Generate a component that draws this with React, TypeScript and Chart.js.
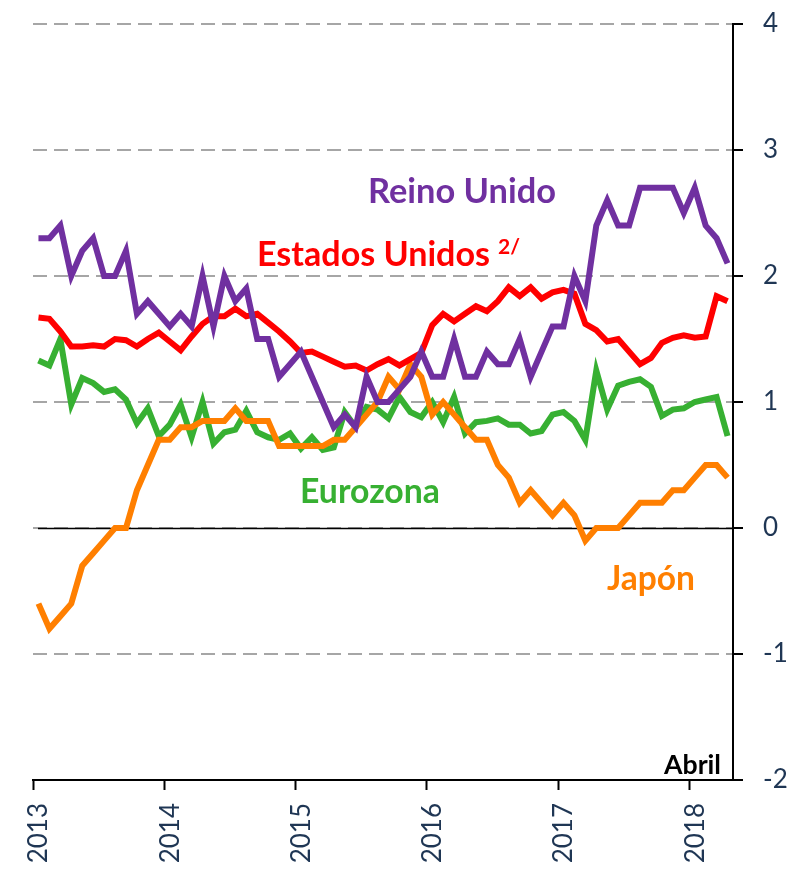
import React, { useEffect, useRef } from 'react';
import { Chart, registerables } from 'chart.js';

Chart.register(...registerables);

// Tick labels (one per January)
const years = ['2013', '2014', '2015', '2016', '2017', '2018'];

// Monthly series, Jan 2013 – Apr 2018 (annual % change)
const ukValues = [
  2.3, 2.3, 2.4, 2.0, 2.2, 2.3, 2.0, 2.0, 2.2, 1.7, 1.8, 1.7,
  1.6, 1.7, 1.6, 2.0, 1.6, 2.0, 1.8, 1.9, 1.5, 1.5, 1.2, 1.3,
  1.4, 1.2, 1.0, 0.8, 0.9, 0.8, 1.2, 1.0, 1.0, 1.1, 1.2, 1.4,
  1.2, 1.2, 1.5, 1.2, 1.2, 1.4, 1.3, 1.3, 1.5, 1.2, 1.4, 1.6,
  1.6, 2.0, 1.8, 2.4, 2.6, 2.4, 2.4, 2.7, 2.7, 2.7, 2.7, 2.5,
  2.7, 2.4, 2.3, 2.1,
];

const usValues = [
  1.67, 1.66, 1.56, 1.44, 1.44, 1.45, 1.44, 1.50, 1.49, 1.44, 1.50, 1.55,
  1.48, 1.41, 1.52, 1.62, 1.68, 1.68, 1.74, 1.68, 1.70, 1.63, 1.56, 1.48,
  1.39, 1.40, 1.36, 1.32, 1.28, 1.29, 1.25, 1.30, 1.34, 1.29, 1.34, 1.39,
  1.61, 1.70, 1.64, 1.70, 1.76, 1.72, 1.80, 1.91, 1.84, 1.91, 1.82, 1.87,
  1.89, 1.86, 1.62, 1.57, 1.48, 1.50, 1.40, 1.30, 1.35, 1.47, 1.51, 1.53,
  1.51, 1.52, 1.84, 1.80,
];

const euroValues = [
  1.33, 1.29, 1.50, 0.98, 1.19, 1.15, 1.08, 1.10, 1.02, 0.83, 0.95, 0.73,
  0.82, 0.98, 0.72, 1.00, 0.67, 0.76, 0.78, 0.93, 0.76, 0.72, 0.70, 0.75,
  0.63, 0.72, 0.62, 0.64, 0.92, 0.80, 0.96, 0.94, 0.87, 1.04, 0.92, 0.88,
  1.00, 0.84, 1.04, 0.75, 0.84, 0.85, 0.87, 0.82, 0.82, 0.75, 0.77, 0.90,
  0.92, 0.85, 0.70, 1.25, 0.94, 1.13, 1.16, 1.18, 1.12, 0.89, 0.94, 0.95,
  1.00, 1.02, 1.04, 0.73,
];

const japanValues = [
  -0.6, -0.8, -0.7, -0.6, -0.3, -0.2, -0.1, 0.0, 0.0, 0.3, 0.5, 0.7,
  0.7, 0.8, 0.8, 0.85, 0.85, 0.85, 0.95, 0.85, 0.85, 0.85, 0.65, 0.65,
  0.65, 0.65, 0.65, 0.7, 0.7, 0.8, 0.9, 1.0, 1.2, 1.1, 1.3, 1.2,
  0.9, 1.0, 0.9, 0.8, 0.7, 0.7, 0.5, 0.4, 0.2, 0.3, 0.2, 0.1,
  0.2, 0.1, -0.1, 0.0, 0.0, 0.0, 0.1, 0.2, 0.2, 0.2, 0.3, 0.3,
  0.4, 0.5, 0.5, 0.4,
];

const seriesNames = ['Reino Unido', 'Estados Unidos', 'Eurozona', 'Japón'];
const footnoteMark = '2/';
const periodNote = 'Abril';

const FONT = 'Lato, "Open Sans", "DejaVu Sans", sans-serif';
const NAVY = '#1F3654';
const PURPLE = '#7030A0';
const RED = '#FF0000';
const GREEN = '#37B032';
const ORANGE = '#FF7F00';

export default function App() {
  const ref = useRef<HTMLCanvasElement | null>(null);

  useEffect(() => {
    document.body.style.margin = '0';
    const canvas = ref.current;
    if (!canvas) return;

    const toPoints = (arr: number[]) => arr.map((v, i) => ({ x: i + 0.5, y: v }));

    const textItems = [
      { text: seriesNames[0], color: PURPLE, x: 368, y: 203, w: 188 },
      { text: seriesNames[1], color: RED, x: 257, y: 266, w: 233 },
      { text: footnoteMark, color: RED, x: 498, y: 254, w: 22 },
      { text: seriesNames[2], color: GREEN, x: 300, y: 503, w: 140 },
      { text: seriesNames[3], color: ORANGE, x: 607, y: 590, w: 88 },
      { text: periodNote, color: '#000000', x: 664, y: 774, w: 57 },
    ];

    const annotate = {
      id: 'annotate',
      beforeDatasetsDraw(chart: any) {
        const { ctx, chartArea, scales } = chart;
        const y0 = Math.round(scales.y.getPixelForValue(0)) + 0.5;
        ctx.save();
        ctx.strokeStyle = '#000000';
        ctx.lineWidth = 1.5;
        ctx.beginPath();
        ctx.moveTo(chartArea.left + 5, y0);
        ctx.lineTo(chartArea.right, y0);
        ctx.stroke();
        ctx.restore();
      },
      afterDatasetsDraw(chart: any) {
        const { ctx } = chart;
        ctx.save();
        ctx.textAlign = 'left';
        ctx.textBaseline = 'alphabetic';
        for (const t of textItems) {
          ctx.font = `bold 100px ${FONT}`;
          const m = ctx.measureText(t.text).width;
          const size = (100 * t.w) / m;
          ctx.font = `bold ${size.toFixed(2)}px ${FONT}`;
          ctx.fillStyle = t.color;
          ctx.fillText(t.text, t.x, t.y);
        }
        ctx.restore();
      },
    };

    const lineDs = (label: string, values: number[], color: string) => ({
      label,
      data: toPoints(values),
      borderColor: color,
      backgroundColor: color,
      borderWidth: 6,
      pointRadius: 0,
      pointHoverRadius: 0,
      tension: 0,
      fill: false,
      borderCapStyle: 'butt' as const,
      borderJoinStyle: 'miter' as const,
    });

    const chart = new Chart(canvas, {
      type: 'line',
      data: {
        datasets: [
          lineDs(seriesNames[0], ukValues, PURPLE),
          lineDs(seriesNames[1], usValues, RED),
          lineDs(seriesNames[3], japanValues, ORANGE),
          lineDs(seriesNames[2], euroValues, GREEN),
        ],
      },
      options: {
        responsive: false,
        animation: false,
        devicePixelRatio: 1,
        layout: { padding: { top: 24, left: 33, right: 0, bottom: 0 } },
        plugins: {
          legend: { display: false },
          tooltip: { enabled: false },
          title: { display: false },
        },
        scales: {
          x: {
            type: 'linear',
            min: 0,
            max: 64,
            afterBuildTicks: (scale: any) => {
              scale.ticks = years.map((_, k) => ({ value: k * 12 }));
            },
            afterFit: (scale: any) => {
              scale.height = 92;
              scale.paddingLeft = 0;
              scale.paddingRight = 0;
            },
            grid: {
              drawOnChartArea: false,
              drawTicks: true,
              tickLength: 10,
              tickWidth: 2,
              tickColor: '#000000',
              color: '#000000',
            },
            border: { display: true, color: '#000000', width: 2 },
            ticks: {
              autoSkip: false,
              minRotation: 90,
              maxRotation: 90,
              padding: 13,
              labelOffset: 6,
              color: NAVY,
              font: { family: FONT, size: 26 },
              callback: (value: any) => years[Math.round(Number(value) / 12)] ?? '',
            },
          },
          y: {
            position: 'right',
            min: -2,
            max: 4,
            afterFit: (scale: any) => {
              scale.width = 71;
              scale.paddingTop = 0;
              scale.paddingBottom = 0;
            },
            grid: {
              color: '#A6A6A6',
              lineWidth: 2,
              drawTicks: true,
              tickLength: 10,
              tickWidth: 2,
              tickColor: '#000000',
              tickBorderDash: [],
            },
            border: { display: true, color: '#000000', width: 2, dash: [14, 7] },
            ticks: {
              stepSize: 1,
              padding: 20,
              color: NAVY,
              font: { family: FONT, size: 26 },
            },
          },
        },
      },
      plugins: [annotate],
    } as any);

    return () => chart.destroy();
  }, []);

  return (
    <div style={{ width: 804, height: 872 }}>
      <canvas ref={ref} width={804} height={872} style={{ display: 'block' }} />
    </div>
  );
}
